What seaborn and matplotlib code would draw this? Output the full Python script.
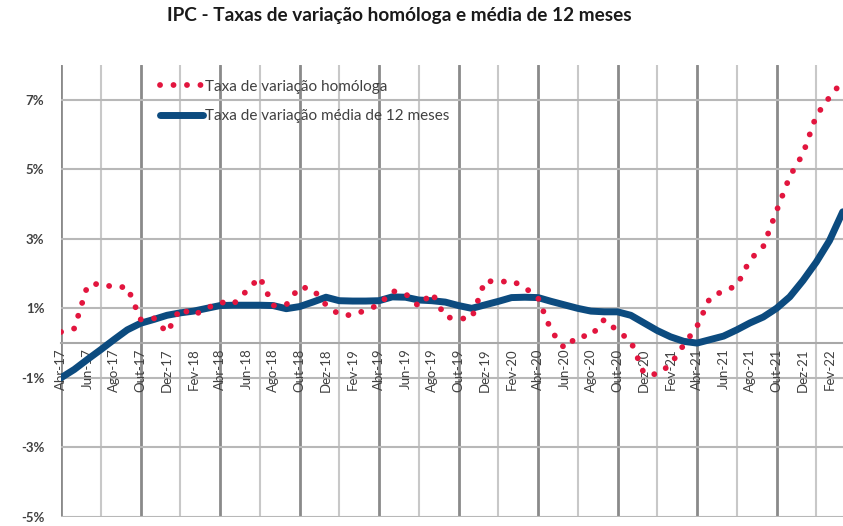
import matplotlib
matplotlib.use('Agg')
import matplotlib.pyplot as plt
import seaborn as sns
import pandas as pd

# Months Abr-17 .. Mar-22
meses_pt = ['Jan', 'Fev', 'Mar', 'Abr', 'Mai', 'Jun', 'Jul', 'Ago', 'Set', 'Out', 'Nov', 'Dez']
meses = [f"{meses_pt[(3 + i) % 12]}-{17 + (3 + i) // 12}" for i in range(60)]

# Taxa de variação homóloga (%)
taxa_homologa = [
    0.32, 0.42, 1.66, 1.72, 1.60, 1.62, 0.68, 0.72, 0.30, 1.00,
    0.80, 1.00, 1.18, 1.12, 1.50, 1.90, 1.08, 1.10, 1.62, 1.55,
    1.10, 0.82, 0.80, 0.95, 1.10, 1.50, 1.42, 1.06, 1.45, 0.75,
    0.70, 0.72, 1.80, 1.75, 1.80, 1.60, 1.30, 0.35, -0.15, 0.20,
    0.20, 0.68, 0.35, 0.06, -0.88, -0.90, -0.62, -0.05, 0.48, 1.32,
    1.50, 1.65, 2.40, 2.78, 3.80, 4.80, 5.45, 6.55, 7.08, 7.55,
]

# Taxa de variação média de 12 meses (%)
taxa_media_12m = [
    -1.00, -0.76, -0.47, -0.19, 0.10, 0.38, 0.57, 0.68, 0.80, 0.87,
    0.92, 1.00, 1.08, 1.09, 1.09, 1.09, 1.08, 0.99, 1.05, 1.18,
    1.32, 1.22, 1.21, 1.21, 1.22, 1.33, 1.32, 1.24, 1.22, 1.18,
    1.08, 1.00, 1.10, 1.20, 1.31, 1.32, 1.31, 1.20, 1.10, 1.00,
    0.92, 0.90, 0.90, 0.80, 0.58, 0.36, 0.18, 0.05, 0.00, 0.10,
    0.20, 0.38, 0.58, 0.75, 1.00, 1.33, 1.80, 2.33, 2.95, 3.78,
]

y_ticks = [-5, -3, -1, 1, 3, 5, 7]

RED = '#E2153E'
BLUE = '#0C4B7F'
TXT = '#404040'

sns.set_theme(style='white')
plt.rcParams['font.family'] = ['Lato', 'DejaVu Sans']

df = pd.DataFrame({'mes': range(len(meses)), 'homologa': taxa_homologa, 'media': taxa_media_12m})

fig = plt.figure(figsize=(8.43, 5.26), dpi=100)
ax = fig.add_axes([0.0724, 0.0177, 0.9273, 0.8582])

# grid: vertical every 3 months, darker at Abr/Out
for m in range(0, len(meses), 3):
    dark = (m % 6 == 0)
    ax.axvline(m, color='#8a8a8a' if dark else '#c8c8c8', lw=2.0 if dark else 1.5, zorder=0)
for y in y_ticks:
    ax.axhline(y, color='#b8b8b8', lw=1.5, zorder=0)

sns.lineplot(data=df, x='mes', y='media', ax=ax, color=BLUE, lw=5.0,
             solid_capstyle='round', label='Taxa de variação média de 12 meses', zorder=3)
sns.lineplot(data=df, x='mes', y='homologa', ax=ax, color=RED, lw=4.2,
             linestyle=(0, (0.01, 2.3)), dash_capstyle='round',
             label='Taxa de variação homóloga', zorder=4)

ax.set_xlim(0, len(meses) - 1)
ax.set_ylim(-5, 8)

for s in ['top', 'right', 'left']:
    ax.spines[s].set_visible(False)
ax.spines['bottom'].set_position(('data', 0))
ax.spines['bottom'].set_color('#a8a8a8')
ax.spines['bottom'].set_linewidth(1.5)
ax.spines['bottom'].set_zorder(0)

ax.set_xticks(range(0, len(meses), 2))
ax.set_xticklabels(meses[::2], rotation=90, fontsize=9.5, color=TXT)
ax.set_yticks(y_ticks)
ax.set_yticklabels([f"{v}%" for v in y_ticks], fontsize=9.5, color=TXT, fontweight='bold')
ax.tick_params(axis='x', length=0, pad=4)
ax.tick_params(axis='y', length=0, pad=12)
ax.set_xlabel('')
ax.set_ylabel('')

handles, labels = ax.get_legend_handles_labels()
ax.legend(handles[::-1], labels[::-1], loc='upper left', bbox_to_anchor=(0.1266, 0.968),
          frameon=False, handlelength=2.8, handletextpad=0.12, labelspacing=1.0,
          fontsize=11, borderaxespad=0, borderpad=0, labelcolor=TXT)

fig.text(399 / 843, 1 - 15 / 526, 'IPC - Taxas de variação homóloga e média de 12 meses',
         ha='center', va='center', fontsize=13.7, fontweight='bold', color='#1a1a1a')

fig.savefig('out.png', dpi=100)
